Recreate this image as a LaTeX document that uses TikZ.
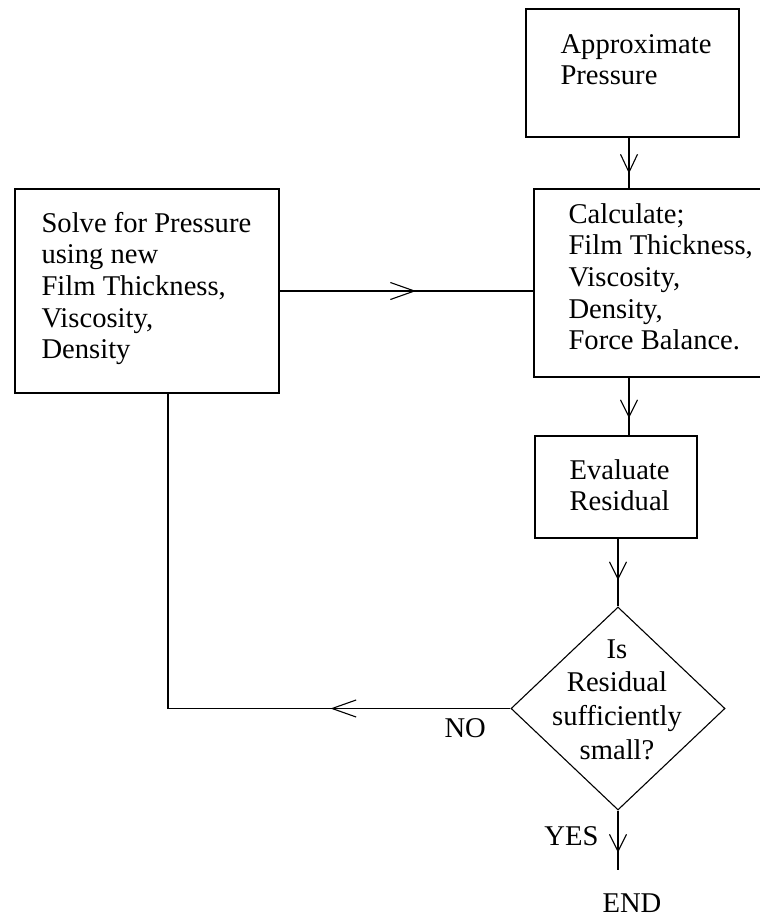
\documentclass[tikz,border=0pt]{standalone}
\usepackage{fontspec}
\setmainfont{Liberation Serif}
\usetikzlibrary{shapes.geometric,arrows.meta,decorations.markings}
\begin{document}
\begin{tikzpicture}[x=1pt,y=-1pt,
  line width=1.1pt,
  box/.style={draw, rectangle, inner sep=0pt},
  txt/.style={inner sep=0pt, font=\fontsize{28.6}{31.7}\selectfont},
  midarrow/.style 2 args={postaction={decorate},
    decoration={markings, mark=at position #1 with {\arrow{Straight Barb[length=#2,width=17pt]}}}}
]
\useasboundingbox (0,0) rectangle (760,919);
\clip (0,0) rectangle (760,919);

% boxes
\node[box, minimum width=213pt, minimum height=128pt] (approx) at (632.5,73) {};
\node[box, minimum width=236pt, minimum height=188pt] (calc) at (652,283) {};
\node[box, minimum width=264pt, minimum height=204pt] (solve) at (147,291) {};
\node[box, minimum width=162pt, minimum height=102pt] (eval) at (616,487) {};
\node[draw, diamond, inner sep=0pt, minimum width=214pt, minimum height=203pt] (dec) at (618,708.5) {};

% texts
\node[txt, anchor=base west] (tapprox) at (560,53)
  {\begin{tabular}[t]{@{}l@{}}Approximate\\Pressure\end{tabular}};
\node[txt, anchor=base west] (tcalc) at (568,223)
  {\begin{tabular}[t]{@{}l@{}}Calculate;\\Film Thickness,\\Viscosity,\\Density,\\Force Balance.\end{tabular}};
\node[txt, anchor=base west] (tsolve) at (41,232)
  {\begin{tabular}[t]{@{}l@{}}Solve for Pressure\\using new\\Film Thickness,\\Viscosity,\\Density\end{tabular}};
\node[txt, anchor=base west] (teval) at (569,479)
  {\begin{tabular}[t]{@{}l@{}}Evaluate\\Residual\end{tabular}};
\node[inner sep=0pt, font=\fontsize{28.6}{33.7}\selectfont, anchor=base] (tdec) at (617,658)
  {\begin{tabular}[t]{@{}c@{}}Is\\Residual\\sufficiently\\small?\end{tabular}};
\node[txt, anchor=base west] (lno) at (444,737) {NO};
\node[txt, anchor=base east] (lyes) at (599,845) {YES};
\node[txt, anchor=base] (lend) at (632,912) {END};

% helper coordinates
\coordinate (sp) at (629,0);
\coordinate (c1) at (168,708.5);
\coordinate (endc) at (618,870);

% connectors
\draw[midarrow={36pt}{18pt}] (approx.south -| sp) -- (calc.north -| sp);
\draw[midarrow={136.5pt}{24pt}] (solve.east) -- (solve.east -| calc.west);
\draw[midarrow={40.5pt}{17pt}] (calc.south -| sp) -- (eval.north -| sp);
\draw[midarrow={41.5pt}{17pt}] (dec.north |- eval.south) -- (dec.north);
\draw[midarrow={180pt}{24pt}] (dec.west) -- (c1) -- (c1 |- solve.south);
\draw[midarrow={42pt}{17pt}] (dec.south) -- (endc);
\end{tikzpicture}
\end{document}
